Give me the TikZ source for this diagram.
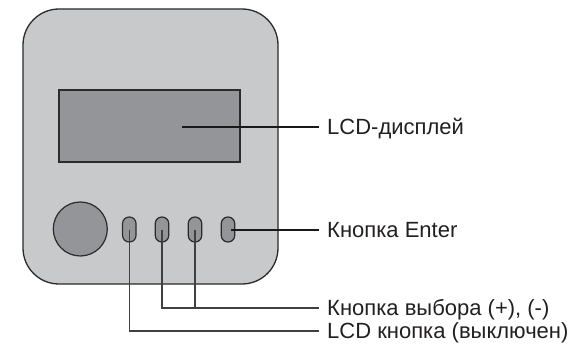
\documentclass[tikz,border=0pt]{standalone}
\usepackage{fontspec}
\setmainfont{Liberation Sans}
\definecolor{bodyfill}{HTML}{C8C9CB}
\definecolor{partfill}{HTML}{939598}
\definecolor{edge}{HTML}{2B2B2B}
\definecolor{txt}{HTML}{231F20}
\begin{document}
\begin{tikzpicture}[x=1pt,y=-1pt,
  part/.style={draw=edge,fill=partfill,line width=1.2pt},
  pill/.style={part,rounded corners=6.6pt,minimum width=13.5pt,minimum height=25pt,inner sep=0pt},
  lab/.style={anchor=base west,inner sep=0pt,text=txt,font=\fontsize{22}{26}\selectfont},
  thick lead/.style={draw=black!90,line width=1.7pt},
  thin lead/.style={draw=black!75,line width=1.1pt}]
\useasboundingbox (0,0) rectangle (574,345);
% body
\draw[draw=edge,fill=bodyfill,line width=1.3pt,rounded corners=36pt] (23,9) rectangle (278,284);
% display
\node[part,minimum width=181pt,minimum height=72pt,inner sep=0pt] (lcd) at (149.5,126) {};
% knob
\node[part,circle,minimum size=54pt,inner sep=0pt] (knob) at (80.3,229) {};
% buttons
\node[pill] (b1) at (129.3,229.5) {};
\node[pill] (b2) at (162,229.5) {};
\node[pill] (b3) at (195,229.5) {};
\node[pill] (b4) at (228,229.5) {};
% labels
\node[lab] (l1) at (327,134.5) {LCD-дисплей};
\node[lab] (l2) at (327,237.5) {Кнопка Enter};
\node[lab] (l3) at (327,315.5) {Кнопка выбора (+), (-)};
\node[lab] (l4) at (327,338.5) {LCD кнопка (выключен)};
% lead ends
\coordinate (e1) at (319,127);
\coordinate (e2) at (319,230);
\coordinate (e3) at (319,308);
\coordinate (e4) at (319,331);
\coordinate (s1) at (182,127);
\coordinate (s2) at (231,230);
\coordinate (j3) at (195,308);
% leads
\draw[thick lead] (s1) -- (e1);
\draw[thick lead] (s2) -- (e2);
\draw[thin lead] (b2.center) |- (e3);
\draw[thin lead] (b3.center) -- (j3);
\draw[thin lead] (b1.center) |- (e4);
\end{tikzpicture}
\end{document}
